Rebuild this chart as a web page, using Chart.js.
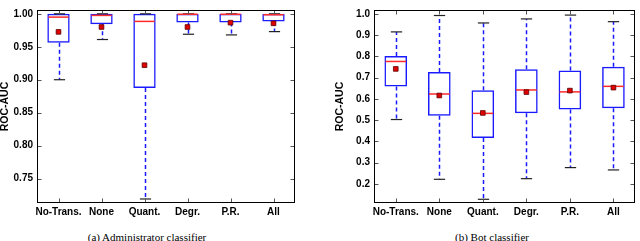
<!DOCTYPE html>
<html>
<head>
<meta charset="utf-8">
<script src="https://cdn.jsdelivr.net/npm/chart.js@4.4.1/dist/chart.umd.min.js"></script>
<style>
  body { margin: 0; background: #fff; }
  #wrap { position: relative; width: 640px; height: 241px; overflow: hidden; }
  canvas { position: absolute; top: 0; }
  .cap { position: absolute; top: 231px; font: 11px "Liberation Serif", serif; line-height: 12px; white-space: nowrap; transform: translateX(-50%); }
</style>
</head>
<body>
<div id="wrap">
  <canvas id="adminCanvas" width="310" height="222" style="left:0"></canvas>
  <canvas id="botCanvas" width="320" height="222" style="left:320px"></canvas>
  <div class="cap" style="left:147px">(a) Administrator classifier</div>
  <div class="cap" style="left:492px">(b) Bot classifier</div>
</div>
<script>
let categories = ["No-Trans.", "None", "Quant.", "Degr.", "P.R.", "All"];

// (a) administrator classifier
let adminLow = [0.900, 0.961, 0.719, 0.969, 0.968, 0.973];
let adminQ1 = [0.956, 0.984, 0.8875, 0.987, 0.987, 0.9885];
let adminMedian = [0.995, 0.9976, 0.9885, 0.9993, 0.9993, 0.9986];
let adminQ3 = [1.0, 1.0, 1.0, 1.0, 1.0, 1.0];
let adminHigh = [1.0, 1.0, 1.0, 1.0, 1.0, 1.0];
let adminMean = [0.9726, 0.980, 0.922, 0.980, 0.9866, 0.9856];
let adminTicks = [0.75, 0.80, 0.85, 0.90, 0.95, 1.00];

// (b) bot classifier
let botLow = [0.503, 0.222, 0.128, 0.225, 0.277, 0.266];
let botQ1 = [0.658, 0.521, 0.416, 0.532, 0.550, 0.556];
let botMedian = [0.776, 0.623, 0.532, 0.642, 0.633, 0.659];
let botQ3 = [0.802, 0.727, 0.641, 0.739, 0.734, 0.751];
let botHigh = [0.915, 0.992, 0.957, 0.976, 0.994, 0.963];
let botMean = [0.741, 0.616, 0.534, 0.632, 0.639, 0.653];
let botTicks = [0.2, 0.3, 0.4, 0.5, 0.6, 0.7, 0.8, 0.9, 1.0];

Chart.defaults.font.family = "'Liberation Sans', Arial, sans-serif";
Chart.defaults.font.weight = "bold";
Chart.defaults.font.size = 10;
Chart.defaults.color = "#000";

// whiskers, caps, medians and the frame with inner ticks
let boxExtras = {
    id: "boxExtras",
    afterDatasetDraw(chart, args, opts) {
        if (args.index !== 0) return;
        let ctx = chart.ctx;
        let y = chart.scales.y;
        let seg = (x1, y1, x2, y2) => {
            ctx.beginPath();
            ctx.moveTo(x1, y1);
            ctx.lineTo(x2, y2);
            ctx.stroke();
        };
        ctx.save();
        args.meta.data.forEach((bar, i) => {
            let cx = Math.round(bar.x) + 0.5;
            let half = bar.width / 2;
            let capHalf = bar.width / 4;
            let yQ1 = y.getPixelForValue(opts.q1[i]);
            let yQ3 = y.getPixelForValue(opts.q3[i]);
            let yLow = y.getPixelForValue(opts.low[i]);
            let yHigh = y.getPixelForValue(opts.high[i]);
            ctx.strokeStyle = "#1a1aff";
            ctx.lineWidth = 1.5;
            ctx.setLineDash([4, 3]);
            seg(cx, yQ1, cx, yLow);
            seg(cx, yQ3, cx, yHigh);
            ctx.setLineDash([]);
            ctx.strokeStyle = "#222";
            ctx.lineWidth = 1.2;
            seg(cx - capHalf, yLow, cx + capHalf, yLow);
            seg(cx - capHalf, yHigh, cx + capHalf, yHigh);
            ctx.strokeStyle = "#ff2a2a";
            ctx.lineWidth = 1.5;
            let yMed = y.getPixelForValue(opts.median[i]);
            seg(bar.x - half + 1, yMed, bar.x + half - 1, yMed);
        });
        ctx.restore();
    },
    afterDraw(chart) {
        let ctx = chart.ctx;
        let a = chart.chartArea;
        let x = chart.scales.x;
        let y = chart.scales.y;
        let l = Math.round(a.left) + 0.5, r = Math.round(a.right) - 0.5;
        let t = Math.round(a.top) + 0.5, b = Math.round(a.bottom) - 0.5;
        ctx.save();
        ctx.strokeStyle = "#555";
        ctx.lineWidth = 1;
        ctx.beginPath();
        y.ticks.forEach(tk => {
            let py = Math.round(y.getPixelForValue(tk.value)) + 0.5;
            ctx.moveTo(l, py); ctx.lineTo(l + 4, py);
            ctx.moveTo(r, py); ctx.lineTo(r - 4, py);
        });
        categories.forEach((c, i) => {
            let px = Math.round(x.getPixelForValue(i)) + 0.5;
            ctx.moveTo(px, b); ctx.lineTo(px, b - 4);
            ctx.moveTo(px, t); ctx.lineTo(px, t + 4);
        });
        ctx.stroke();
        ctx.strokeStyle = "#000";
        ctx.strokeRect(l, t, r - l, b - t);
        ctx.restore();
    }
};

let pintarBoxplot = (canvasId, stats, range) => {
    let floating = stats.q1.map((v, i) => [v, stats.q3[i]]);
    return new Chart(document.getElementById(canvasId), {
        type: "bar",
        data: {
            labels: categories,
            datasets: [{
                data: floating,
                backgroundColor: "rgba(255,255,255,0)",
                borderColor: "#1a1aff",
                borderWidth: 1.5,
                borderSkipped: false,
                barPercentage: 0.52,
                categoryPercentage: 1,
                order: 2
            }, {
                type: "line",
                data: stats.mean,
                showLine: false,
                pointStyle: "rect",
                pointRadius: 3.3,
                pointBackgroundColor: "#e00000",
                pointBorderColor: "#5a0000",
                pointBorderWidth: 0.8,
                clip: false,
                order: 1
            }]
        },
        options: {
            responsive: false,
            animation: false,
            layout: { padding: { left: 0, right: range.padRight, top: 0, bottom: 0 } },
            plugins: {
                legend: { display: false },
                tooltip: { enabled: false },
                boxExtras: stats
            },
            scales: {
                x: {
                    grid: { display: false, drawTicks: false },
                    border: { display: false },
                    ticks: { padding: 3, maxRotation: 0, autoSkip: false },
                    afterFit: s => { s.height = 19; }
                },
                y: {
                    min: range.min,
                    max: range.max,
                    grid: { display: false, drawTicks: false },
                    border: { display: false },
                    afterBuildTicks: s => { s.ticks = range.ticks.map(v => ({ value: v })); },
                    ticks: { padding: 4, callback: v => v.toFixed(range.digits) },
                    title: {
                        display: true,
                        text: "ROC-AUC",
                        font: { size: 10.5, weight: "bold", lineHeight: 1 },
                        padding: { top: range.titlePad, bottom: 0 }
                    },
                    afterFit: s => { s.width = range.axisWidth; }
                }
            }
        },
        plugins: [boxExtras]
    });
};

pintarBoxplot("adminCanvas",
    { low: adminLow, q1: adminQ1, median: adminMedian, q3: adminQ3, high: adminHigh, mean: adminMean },
    { min: 0.7129, max: 1.0058, ticks: adminTicks, digits: 2, axisWidth: 37, padRight: 15, titlePad: 0 });

pintarBoxplot("botCanvas",
    { low: botLow, q1: botQ1, median: botMedian, q3: botQ3, high: botHigh, mean: botMean },
    { min: 0.1106, max: 1.0179, ticks: botTicks, digits: 1, axisWidth: 54, padRight: 1, titlePad: 15 });
</script>
</body>
</html>
